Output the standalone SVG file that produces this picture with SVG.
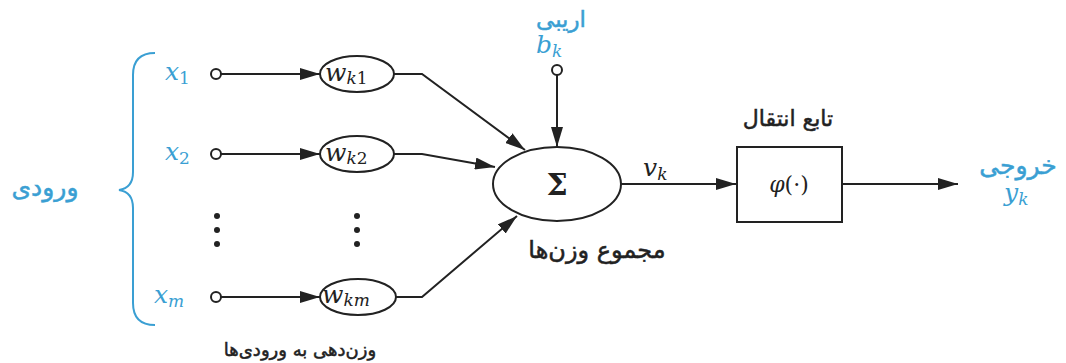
<svg xmlns="http://www.w3.org/2000/svg" width="1066" height="363" viewBox="0 0 1066 363">
<style>
.arr{fill:none;stroke:#222;stroke-width:2;marker-end:url(#ah)}
.nd{fill:#fff;stroke:#222;stroke-width:2}
.m{font-family:"DejaVu Serif","Liberation Serif",serif;font-style:italic;font-size:25px;fill:#222}
.sub{font-size:17px}
.subu{font-size:17px;font-style:normal}
.blue{fill:#3a9fd3}
.fa{font-family:"DejaVu Sans","Noto Sans",sans-serif;font-size:20px;fill:#222;stroke:#222;stroke-width:0.5;text-anchor:middle}
.fab{font-family:"DejaVu Sans","Noto Sans",sans-serif;font-size:20px;fill:#3a9fd3;stroke:#3a9fd3;stroke-width:0.5;text-anchor:middle}
.dot{fill:#222}
</style>
<defs>
<marker id="ah" markerUnits="userSpaceOnUse" markerWidth="22" markerHeight="12" refX="20" refY="6" orient="auto">
<path d="M0,0 L20,6 L0,12 Z" fill="#222"/>
</marker>
</defs>
<g id="connectors">
<line class="arr" x1="221" y1="74" x2="320" y2="74"/>
<line class="arr" x1="221" y1="154" x2="320" y2="154"/>
<line class="arr" x1="221" y1="297" x2="320" y2="297"/>
<polyline class="arr" points="394,74 422,74 525,150"/>
<polyline class="arr" points="394,154 422,154 495,167"/>
<polyline class="arr" points="396,297 422,297 517,216"/>
<line class="arr" x1="557" y1="75" x2="557" y2="147"/>
<line class="arr" x1="621" y1="184" x2="736" y2="184"/>
<line class="arr" x1="842" y1="184" x2="958" y2="184"/>
</g>
<g id="inputs-brace">
<path d="M155,53 Q133,53 133,75 L133,172 Q133,188 119,190 Q133,192 133,208 L133,303 Q133,325 155,325" fill="none" stroke="#3a9fd3" stroke-width="2"/>
<text class="fab" x="45" y="196" style="font-size:25px">ورودی</text>
</g>
<g id="x1">
<circle class="nd" cx="216" cy="74" r="5"/>
<text class="m blue" x="165" y="80">x<tspan class="subu" dy="4">1</tspan></text>
</g>
<g id="x2">
<circle class="nd" cx="216" cy="154" r="5"/>
<text class="m blue" x="165" y="160">x<tspan class="subu" dy="4">2</tspan></text>
</g>
<g id="xm">
<circle class="nd" cx="216" cy="297" r="5"/>
<text class="m blue" x="154" y="303">x<tspan class="sub" dy="4">m</tspan></text>
</g>
<g id="dots-left">
<circle class="dot" cx="217" cy="216" r="3"/>
<circle class="dot" cx="217" cy="230" r="3"/>
<circle class="dot" cx="217" cy="244" r="3"/>
</g>
<g id="dots-right">
<circle class="dot" cx="357" cy="216" r="3"/>
<circle class="dot" cx="357" cy="230" r="3"/>
<circle class="dot" cx="357" cy="244" r="3"/>
</g>
<g id="wk1">
<ellipse class="nd" cx="357" cy="74" rx="37" ry="18"/>
<text class="m" x="325" y="81">w<tspan class="sub" dy="3">k</tspan><tspan class="subu">1</tspan></text>
</g>
<g id="wk2">
<ellipse class="nd" cx="357" cy="154" rx="37" ry="18"/>
<text class="m" x="325" y="161">w<tspan class="sub" dy="3">k</tspan><tspan class="subu">2</tspan></text>
</g>
<g id="wkm">
<ellipse class="nd" cx="358" cy="297" rx="38" ry="18"/>
<text class="m" x="322" y="303">w<tspan class="sub" dy="3">km</tspan></text>
</g>
<text class="fa" x="300" y="356" style="font-size:18px">وزن‌دهی به ورودی‌ها</text>
<g id="bias">
<circle class="nd" cx="557" cy="70" r="5"/>
<text class="fab" x="561" y="27" style="font-size:23px">اریبی</text>
<text class="m blue" x="536" y="53">b<tspan class="sub" dy="4">k</tspan></text>
</g>
<g id="sum">
<ellipse class="nd" cx="557" cy="184" rx="64" ry="37"/>
<text x="557" y="195" text-anchor="middle" font-family="DejaVu Serif,serif" font-weight="bold" font-size="30" fill="#222">Σ</text>
<text class="fa" x="597" y="258" style="font-size:24px">مجموع وزن‌ها</text>
</g>
<text class="m" x="643" y="176">v<tspan class="sub" dy="4">k</tspan></text>
<g id="activation">
<rect x="737" y="147" width="105" height="75" fill="#fff" stroke="#222" stroke-width="2"/>
<text x="789" y="192" text-anchor="middle" font-family="DejaVu Serif,serif" font-size="22" fill="#222"><tspan font-style="italic">φ</tspan>(·)</text>
<text class="fa" x="788" y="126" style="font-size:22px">تابع انتقال</text>
</g>
<g id="output">
<text class="fab" x="1018" y="174" style="font-size:25px">خروجی</text>
<text class="m blue" x="1004" y="201">y<tspan class="sub" dy="4">k</tspan></text>
</g>
</svg>
